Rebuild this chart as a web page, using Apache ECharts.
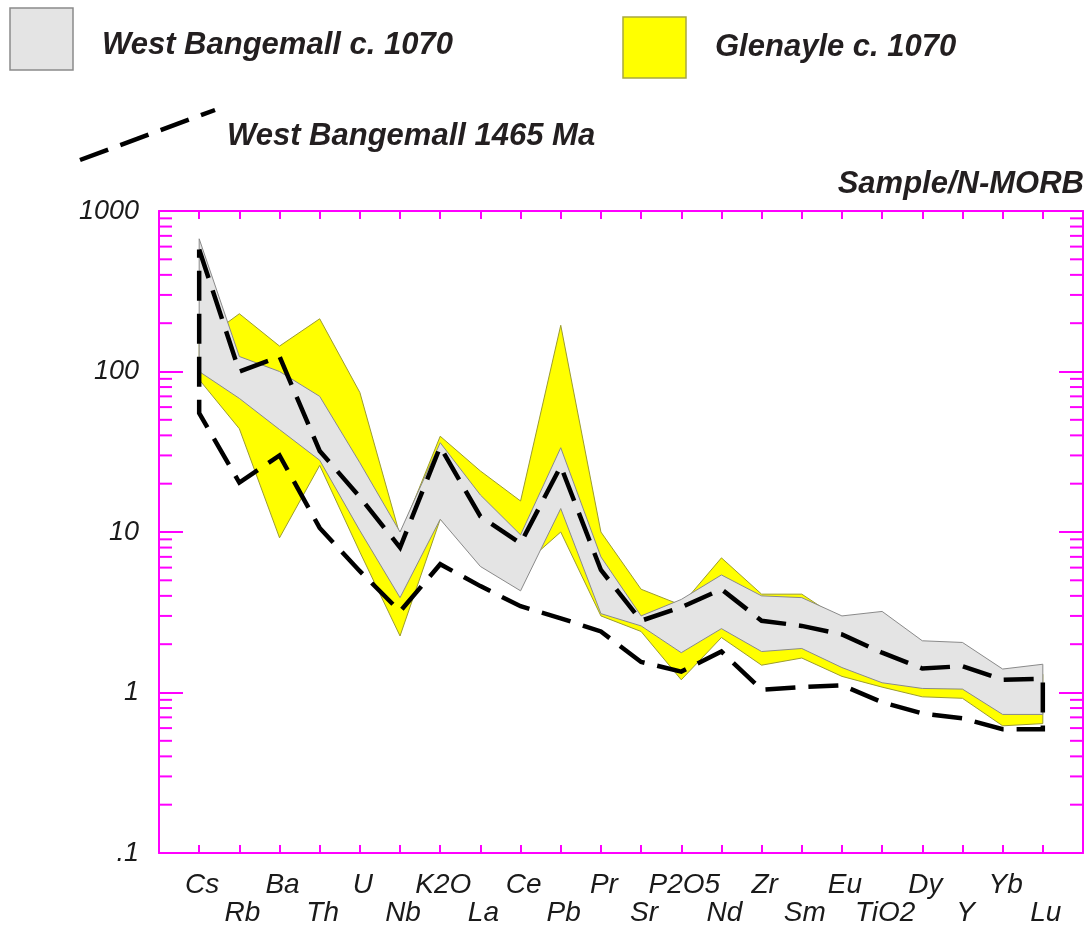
<!DOCTYPE html>
<html><head><meta charset="utf-8">
<script src="https://cdn.jsdelivr.net/npm/echarts@6/dist/echarts.min.js"></script>
<style>html,body{margin:0;padding:0;background:#fff}#c{width:1089px;height:937px}</style>
</head><body><div id="c"></div>
<script>
const categories = ['Cs','Rb','Ba','Th','U','Nb','K2O','La','Ce','Pb','Pr','Sr','P2O5','Nd','Zr','Sm','Eu','TiO2','Dy','Y','Yb','Lu'];
// West Bangemall c. 1070 envelope (grey)
const wbMax = [671,124,100,70,27,10,36,17,9.6,33.5,7,3.0,3.8,5.4,4.0,3.9,3.0,3.2,2.1,2.05,1.4,1.5];
const wbMin = [100,68,43.5,28,10.2,3.9,12,6.1,4.3,14,3.1,2.6,1.77,2.5,1.8,1.88,1.43,1.15,1.06,1.05,0.73,0.73];
// Glenayle c. 1070 envelope (yellow)
const glMax = [150,229,144,213,74,9.5,39.5,24,15.6,194,10,4.4,3.5,6.9,4.1,4.1,2.8,2.5,1.9,1.8,1.2,1.3];
const glMin = [89,44,9.2,26,7.5,2.25,12,7,6,10,3.0,2.4,1.2,2.2,1.48,1.64,1.26,1.08,0.94,0.92,0.62,0.64];
// West Bangemall 1465 Ma envelope (dashed outline)
const wb1465Max = [575,100,124,32,16.5,8,34,12.5,8.5,25.7,5.8,2.8,3.4,4.4,2.8,2.6,2.3,1.77,1.41,1.46,1.2,1.22];
const wb1465Min = [55,20.3,30,10.6,5.7,3.2,6.3,4.6,3.45,2.9,2.4,1.55,1.35,1.8,1.04,1.08,1.11,0.87,0.74,0.69,0.59,0.59];
const yTickLabels = {0.1:'.1',1:'1',10:'10',100:'100',1000:'1000'};
const minorMult = [2,3,4,5,6,7,8,9];
const decades = [0.1,1,10,100];

const MAG = '#ff00ff';
const FONT = '"Liberation Sans",Arial,sans-serif';

function envelope(upper, lower, fill, stroke) {
  return {
    type: 'custom', coordinateSystem: 'cartesian2d', xAxisIndex: 0, yAxisIndex: 0,
    data: [[0, 1]], clip: true, silent: true,
    renderItem: function (params, api) {
      const pts = upper.map((v, i) => api.coord([i, v]))
        .concat(lower.map((v, i) => api.coord([i, v])).reverse());
      return { type: 'polygon', shape: { points: pts },
        style: { fill: fill, stroke: stroke, lineWidth: 1 } };
    }
  };
}

const dashedData = wb1465Max.map((v, i) => [i, v])
  .concat(wb1465Min.map((v, i) => [i, v]).reverse())
  .concat([[0, wb1465Max[0]]]);

const minorVals = [];
decades.forEach(d => minorMult.forEach(m => minorVals.push(m * d)));

function legendText(text, x, y, align) {
  return { type: 'text', x: x, y: y,
    style: { text: text, fill: '#231f20', font: 'italic bold 31px ' + FONT, verticalAlign: 'middle', align: align || 'left' } };
}

const chart = echarts.init(document.getElementById('c'));
chart.setOption({
  animation: false,
  backgroundColor: '#fff',
  grid: { left: 159, right: 2, top: 211, bottom: 84, containLabel: false },
  xAxis: [{
    type: 'value', min: -1, max: 22, interval: 1, position: 'bottom',
    axisLine: { show: true, onZero: false, lineStyle: { color: MAG, width: 2 } },
    axisTick: { show: true, inside: true, length: 8, lineStyle: { color: MAG, width: 2 } },
    splitLine: { show: false },
    axisLabel: {
      show: true, margin: 18, color: '#1a1a1a', fontFamily: FONT, fontStyle: 'italic', fontSize: 28,
      lineHeight: 28, padding: [0, 0, 0, 6],
      formatter: function (v) {
        const i = Math.round(v);
        if (i < 0 || i >= categories.length) return '';
        return i % 2 === 0 ? categories[i] : '\n' + categories[i];
      }
    }
  }, {
    type: 'value', min: -1, max: 22, interval: 1, position: 'top',
    axisLine: { show: true, onZero: false, lineStyle: { color: MAG, width: 2 } },
    axisTick: { show: true, inside: true, length: 8, lineStyle: { color: MAG, width: 2 } },
    splitLine: { show: false }, axisLabel: { show: false }
  }],
  yAxis: [{
    type: 'log', logBase: 10, min: 0.1, max: 1000, position: 'left',
    axisLine: { show: true, onZero: false, lineStyle: { color: MAG, width: 2 } },
    axisTick: { show: true, inside: true, length: 24, lineStyle: { color: MAG, width: 2 } },
    splitLine: { show: false }, minorTick: { show: false },
    axisLabel: {
      show: true, margin: 20, color: '#1a1a1a', fontFamily: FONT, fontStyle: 'italic', fontSize: 27,
      formatter: function (v) {
        const key = Math.round(Math.log10(v));
        return yTickLabels[Math.pow(10, key)] || '';
      }
    }
  }, {
    type: 'log', logBase: 10, min: 0.1, max: 1000, position: 'right',
    axisLine: { show: true, onZero: false, lineStyle: { color: MAG, width: 2 } },
    axisTick: { show: true, inside: true, length: 24, lineStyle: { color: MAG, width: 2 } },
    splitLine: { show: false }, axisLabel: { show: false }
  }],
  series: [
    envelope(glMax, glMin, '#ffff00', '#9c9c30'),
    envelope(wbMax, wbMin, '#e4e4e4', '#8a8a8a'),
    {
      type: 'line', xAxisIndex: 0, yAxisIndex: 0, data: dashedData,
      symbol: 'none', silent: true, clip: true,
      lineStyle: { color: '#000', width: 4.5, type: [30, 13], join: 'miter' }
    },
    {
      type: 'custom', coordinateSystem: 'cartesian2d', xAxisIndex: 0, yAxisIndex: 0,
      data: minorVals.map(v => [0, v]), silent: true, clip: false,
      renderItem: function (params, api) {
        const v = api.value(1);
        const l = api.coord([-1, v]);
        const r = api.coord([22, v]);
        return { type: 'group', children: [
          { type: 'line', shape: { x1: l[0], y1: l[1], x2: l[0] + 13, y2: l[1] }, style: { stroke: MAG, lineWidth: 2 } },
          { type: 'line', shape: { x1: r[0], y1: r[1], x2: r[0] - 13, y2: r[1] }, style: { stroke: MAG, lineWidth: 2 } }
        ] };
      }
    }
  ],
  graphic: [
    { type: 'rect', shape: { x: 10, y: 8, width: 63, height: 62 }, style: { fill: '#e4e4e4', stroke: '#8a8a8a', lineWidth: 1.5 } },
    legendText('West Bangemall c. 1070', 102, 45),
    { type: 'rect', shape: { x: 623, y: 17, width: 63, height: 61 }, style: { fill: '#ffff00', stroke: '#a8a840', lineWidth: 1.5 } },
    legendText('Glenayle c. 1070', 715, 47),
    { type: 'line', shape: { x1: 80, y1: 160, x2: 215, y2: 110 }, style: { stroke: '#000', lineWidth: 4.5, lineDash: [30, 13] } },
    legendText('West Bangemall 1465 Ma', 227, 136),
    legendText('Sample/N-MORB', 1084, 184, 'right')
  ]
});
</script></body></html>
